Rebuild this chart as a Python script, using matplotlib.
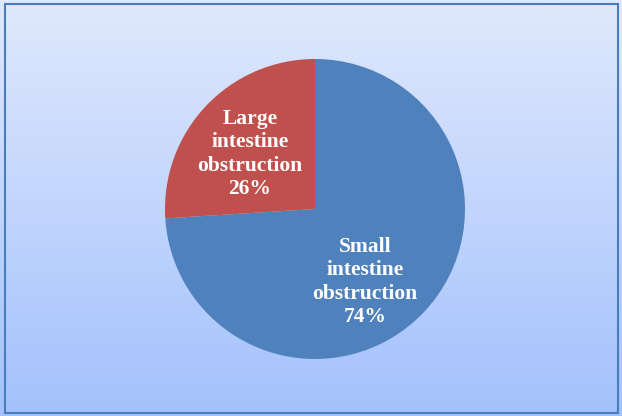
import matplotlib
matplotlib.use("Agg")
import matplotlib.pyplot as plt
import numpy as np
from matplotlib.patches import Rectangle

categories = ["Small\nintestine\nobstruction", "Large\nintestine\nobstruction"]
values = [74, 26]
colors = ["#4F81BD", "#C0504D"]

W, H = 622, 416
fig = plt.figure(figsize=(W / 100, H / 100), dpi=100)

# background gradient
bg = fig.add_axes([0, 0, 1, 1])
top = np.array([224, 233, 253]) / 255
bot = np.array([163, 193, 252]) / 255
t = np.linspace(0, 1, 256)[:, None]
grad = top[None, :] * (1 - t) + bot[None, :] * t
bg.imshow(grad[:, None, :].repeat(2, axis=1), aspect="auto", extent=[0, W, 0, H], origin="upper")
bg.set_xlim(0, W)
bg.set_ylim(0, H)
bg.add_patch(Rectangle((4.5, 3.5), W - 9, H - 7.5, fill=False, edgecolor="#4A7EBB", lw=1.5))
bg.axis("off")

cx, cy, r = 315, 209, 150
ax = fig.add_axes([(cx - r) / W, (H - cy - r) / H, 2 * r / W, 2 * r / H])
wedges, _ = ax.pie(values, colors=colors, startangle=90, counterclock=False,
                   wedgeprops=dict(linewidth=0))
ax.set_aspect("equal")
ax.set_xlim(-1, 1)
ax.set_ylim(-1, 1)

label_pos = [(365, 282), (250, 154)]
for (px, py), cat, v in zip(label_pos, categories, values):
    ax.text((px - cx) / r, (cy - py) / r, f"{cat}\n{v}%", ha="center", va="center",
            color="white", fontsize=15.5, fontweight="bold", family="Liberation Serif",
            linespacing=1.24)

fig.savefig("out.png", dpi=100)
